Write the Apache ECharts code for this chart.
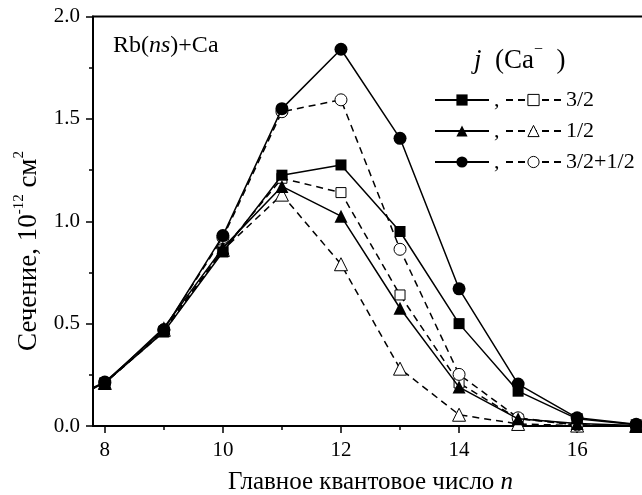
<!DOCTYPE html>
<html>
<head>
<meta charset="utf-8">
<script src="https://cdn.jsdelivr.net/npm/echarts@6/dist/echarts.min.js"></script>
<style>
  html, body { margin: 0; padding: 0; background: #fff; }
  #chart { width: 642px; height: 495px; }
</style>
</head>
<body>
<div id="chart"></div>
<script>
// Principal quantum number n of the Rb(ns) state
const nValues = [7, 8, 9, 10, 11, 12, 13, 14, 15, 16, 17];

// Cross sections, 10^-12 cm^2 — solid lines (filled symbols)
const solid32 = [0.08, 0.21, 0.46, 0.85, 1.225, 1.275, 0.95, 0.50, 0.17, 0.035, 0.006];
const solid12 = [0.08, 0.21, 0.48, 0.87, 1.17, 1.025, 0.575, 0.19, 0.035, 0.012, 0.003];
const solidSum = [0.08, 0.215, 0.47, 0.93, 1.55, 1.84, 1.405, 0.67, 0.205, 0.04, 0.008];

// Cross sections, 10^-12 cm^2 — dashed lines (open symbols)
const dashed32 = [0.08, 0.21, 0.46, 0.86, 1.21, 1.14, 0.64, 0.21, 0.035, 0.005, 0.0];
const dashed12 = [0.08, 0.21, 0.47, 0.86, 1.13, 0.79, 0.28, 0.055, 0.01, 0.002, 0.0];
const dashedSum = [0.08, 0.21, 0.47, 0.92, 1.535, 1.593, 0.863, 0.252, 0.04, 0.005, 0.0];

// Axis ticks
const xMajorTicks = [8, 10, 12, 14, 16];
const xMinorTicks = [9, 11, 13, 15, 17];
const jLabels = ['3/2', '1/2', '3/2+1/2'];

const FONT = 'Liberation Serif';
const pairs = (ys) => nValues.map((n, i) => [n, ys[i]]);

function makeSeries(name, ys, symbol, size, filled) {
  return {
    name: name,
    type: 'line',
    data: pairs(ys),
    symbol: symbol,
    symbolSize: size,
    showAllSymbol: true,
    clip: true,
    lineStyle: filled
      ? { color: '#000', width: 1.5, type: 'solid' }
      : { color: '#000', width: 1.5, type: [7, 5] },
    itemStyle: filled
      ? { color: '#000', borderColor: '#000', borderWidth: 0 }
      : { color: '#fff', borderColor: '#000', borderWidth: 1 },
    emphasis: { disabled: true },
    z: filled ? 3 : 2
  };
}

const series = [
  makeSeries('d32', dashed32, 'rect', 10, false),
  makeSeries('d12', dashed12, 'triangle', 13, false),
  makeSeries('dSum', dashedSum, 'circle', 12, false),
  makeSeries('s32', solid32, 'rect', 11, true),
  makeSeries('s12', solid12, 'triangle', 13, true),
  makeSeries('sSum', solidSum, 'circle', 13, true)
];

const chart = echarts.init(document.getElementById('chart'), null, { renderer: 'canvas' });

chart.setOption({
  animation: false,
  backgroundColor: '#fff',
  textStyle: { fontFamily: FONT, color: '#000' },
  grid: {
    left: 93, right: -6, top: 16.5, bottom: 69,
    outerBoundsMode: 'none', containLabel: false,
    show: true, borderColor: '#000', borderWidth: 2, backgroundColor: 'transparent'
  },
  xAxis: [
    {
      type: 'value', min: 7.8, max: 17.2,
      name: '{a|Главное квантовое число }{i|n}',
      nameLocation: 'middle', nameGap: 44,
      nameTextStyle: {
        rich: {
          a: { fontFamily: FONT, fontSize: 25, color: '#000' },
          i: { fontFamily: FONT, fontSize: 25, fontStyle: 'italic', color: '#000' }
        }
      },
      axisLine: { show: true, onZero: false, lineStyle: { color: '#000', width: 2 } },
      axisTick: { show: true, length: 7, customValues: xMajorTicks, lineStyle: { color: '#000', width: 1.5 } },
      axisLabel: { customValues: xMajorTicks, fontFamily: FONT, fontSize: 21, color: '#000', margin: 14 },
      splitLine: { show: false }
    },
    {
      // minor ticks at odd n
      type: 'value', min: 7.8, max: 17.2, position: 'bottom',
      axisLine: { show: false },
      axisTick: { show: true, length: 4, customValues: xMinorTicks, lineStyle: { color: '#000', width: 1.5 } },
      axisLabel: { show: false },
      splitLine: { show: false }
    }
  ],
  yAxis: {
    type: 'value', min: 0, max: 2, interval: 0.5,
    axisLine: { show: true, lineStyle: { color: '#000', width: 2 } },
    axisTick: { show: true, length: 7, lineStyle: { color: '#000', width: 1.5 } },
    minorTick: { show: true, splitNumber: 2, length: 4, lineStyle: { color: '#000', width: 1.5 } },
    axisLabel: {
      fontFamily: FONT, fontSize: 21, color: '#000', margin: 13,
      formatter: (v) => v.toFixed(1)
    },
    splitLine: { show: false },
    minorSplitLine: { show: false }
  },
  legend: [
    {
      data: ['s32', 's12', 'sSum'],
      orient: 'vertical', left: 434, top: 89, padding: 0,
      itemWidth: 54, itemHeight: 14, itemGap: 9,
      selectedMode: false,
      formatter: () => ',',
      textStyle: { fontFamily: FONT, fontSize: 22, color: '#000' },
      itemStyle: { borderWidth: 0 }
    },
    {
      data: ['d32', 'd12', 'dSum'],
      orient: 'vertical', left: 505, top: 89, padding: 0,
      itemWidth: 55, itemHeight: 14, itemGap: 9,
      selectedMode: false,
      formatter: (name) => jLabels[['d32', 'd12', 'dSum'].indexOf(name)],
      textStyle: { fontFamily: FONT, fontSize: 22, color: '#000' },
      itemStyle: { borderWidth: 1, borderColor: '#000' }
    }
  ],
  graphic: [
    {
      // y-axis title, rotated
      type: 'text', x: 27, y: 251, rotation: Math.PI / 2,
      style: {
        text: '{a|Сечение, 10}{s|-12}{a| см}{s|2}',
        align: 'center', verticalAlign: 'middle',
        rich: {
          a: { fontFamily: FONT, fontSize: 27, fill: '#000', verticalAlign: 'bottom', lineHeight: 30 },
          s: { fontFamily: FONT, fontSize: 15, fill: '#000', verticalAlign: 'top', lineHeight: 30 }
        }
      }
    },
    {
      type: 'text', left: 113, top: 34,
      style: {
        text: '{a|Rb(}{i|ns}{a|)+Ca}',
        rich: {
          a: { fontFamily: FONT, fontSize: 24, fill: '#000' },
          i: { fontFamily: FONT, fontSize: 24, fontStyle: 'italic', fill: '#000' }
        }
      }
    },
    {
      type: 'text', left: 474, top: 42,
      style: {
        text: '{i|j}{a|  (Ca}{s|−}{a|  )}',
        rich: {
          a: { fontFamily: FONT, fontSize: 27, fill: '#000', verticalAlign: 'bottom', lineHeight: 32 },
          i: { fontFamily: FONT, fontSize: 27, fontStyle: 'italic', fill: '#000', verticalAlign: 'bottom', lineHeight: 32 },
          s: { fontFamily: FONT, fontSize: 16, fill: '#000', verticalAlign: 'top', lineHeight: 32 }
        }
      }
    }
  ],
  series: series
});
</script>
</body>
</html>
